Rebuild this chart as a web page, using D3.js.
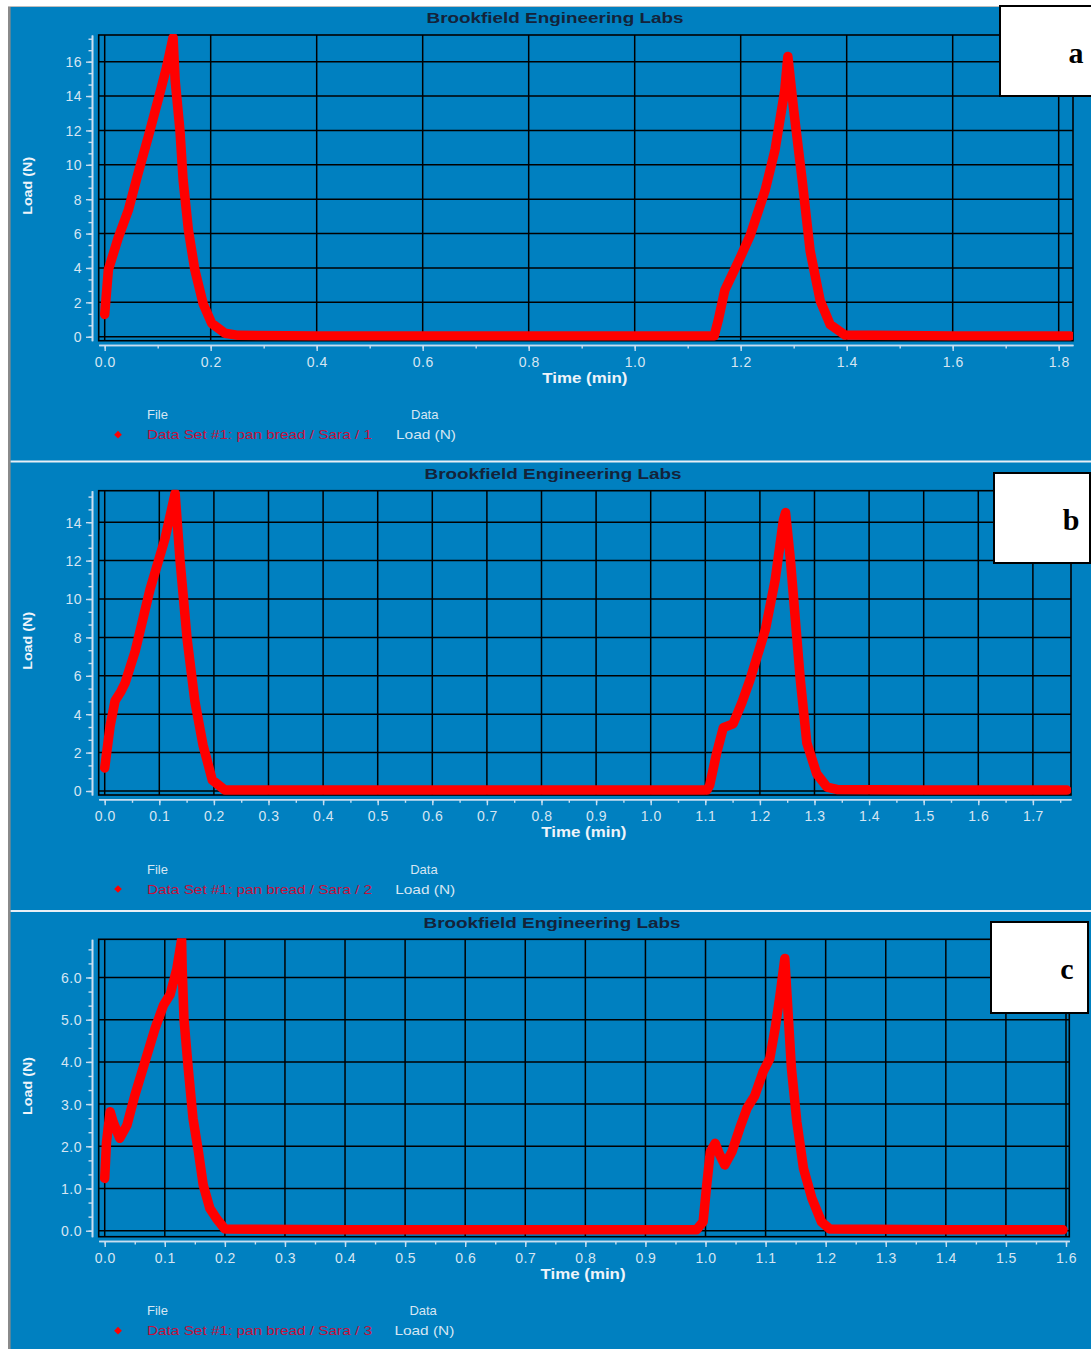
<!DOCTYPE html>
<html><head><meta charset="utf-8">
<script src="https://cdn.jsdelivr.net/npm/d3@7"></script>
<style>body{margin:0;background:#fff}svg{display:block}</style>
</head><body>
<script>
// ---------- DATA ----------
const titleText = "Brookfield Engineering Labs";
const xLabel = "Time (min)";
const yLabel = "Load (N)";
const panelLetters = ["a", "b", "c"];
const seriesNames = ["Data Set #1: pan bread / Sara / 1", "Data Set #1: pan bread / Sara / 2", "Data Set #1: pan bread / Sara / 3"];

const timeA = [0, 0.007, 0.026, 0.045, 0.063, 0.082, 0.101, 0.117, 0.129, 0.133, 0.142, 0.148, 0.158, 0.170, 0.186, 0.202, 0.227, 0.252, 0.40, 0.60, 0.80, 1.00, 1.15, 1.158, 1.17, 1.199, 1.218, 1.246, 1.265, 1.283, 1.289, 1.30, 1.316, 1.331, 1.35, 1.369, 1.397, 1.60, 1.822];
const loadA = [1.3, 3.9, 5.8, 7.4, 9.5, 11.6, 13.8, 15.7, 17.4, 14.9, 12.0, 9.1, 6.2, 3.9, 1.9, 0.78, 0.2, 0.08, 0.05, 0.05, 0.05, 0.05, 0.05, 1.0, 2.7, 4.6, 5.9, 8.5, 10.9, 14.3, 16.3, 13.2, 9.1, 5.0, 2.1, 0.7, 0.1, 0.05, 0.05];

const timeB = [0, 0.01, 0.019, 0.03, 0.037, 0.056, 0.083, 0.11, 0.129, 0.138, 0.151, 0.165, 0.18, 0.197, 0.22, 0.4, 0.6, 0.8, 1.0, 1.103, 1.108, 1.121, 1.133, 1.151, 1.167, 1.182, 1.21, 1.228, 1.243, 1.247, 1.256, 1.265, 1.274, 1.286, 1.304, 1.323, 1.341, 1.5, 1.762];
const loadB = [1.2, 3.4, 4.7, 5.2, 5.6, 7.3, 10.5, 13.1, 15.5, 12.0, 7.9, 4.7, 2.4, 0.57, 0.05, 0.05, 0.05, 0.05, 0.05, 0.05, 0.3, 2.0, 3.3, 3.5, 4.6, 5.8, 8.4, 11.0, 14.1, 14.5, 12.0, 8.9, 5.8, 2.5, 0.9, 0.2, 0.08, 0.05, 0.05];

const timeC = [0, 0.003, 0.009, 0.014, 0.025, 0.037, 0.05, 0.067, 0.084, 0.098, 0.109, 0.12, 0.128, 0.129, 0.132, 0.139, 0.147, 0.156, 0.164, 0.175, 0.186, 0.2, 0.4, 0.6, 0.8, 0.985, 0.996, 1.002, 1.008, 1.016, 1.024, 1.032, 1.044, 1.057, 1.069, 1.082, 1.096, 1.107, 1.116, 1.124, 1.132, 1.138, 1.143, 1.152, 1.163, 1.177, 1.193, 1.207, 1.4, 1.595];
const loadC = [1.24, 2.1, 2.82, 2.58, 2.19, 2.5, 3.2, 4.0, 4.8, 5.35, 5.6, 6.2, 6.9, 6.2, 5.0, 3.85, 2.66, 1.87, 1.08, 0.53, 0.29, 0.04, 0.02, 0.02, 0.02, 0.02, 0.21, 1.08, 1.87, 2.07, 1.79, 1.56, 1.87, 2.43, 2.9, 3.2, 3.77, 4.08, 4.8, 5.58, 6.45, 5.03, 3.85, 2.58, 1.48, 0.77, 0.21, 0.04, 0.02, 0.02];

const xTicksA = [0, 0.2, 0.4, 0.6, 0.8, 1.0, 1.2, 1.4, 1.6, 1.8];
const yTicksA = [0, 2, 4, 6, 8, 10, 12, 14, 16];
const xTicksB = [0, 0.1, 0.2, 0.3, 0.4, 0.5, 0.6, 0.7, 0.8, 0.9, 1.0, 1.1, 1.2, 1.3, 1.4, 1.5, 1.6, 1.7];
const yTicksB = [0, 2, 4, 6, 8, 10, 12, 14];
const xTicksC = [0, 0.1, 0.2, 0.3, 0.4, 0.5, 0.6, 0.7, 0.8, 0.9, 1.0, 1.1, 1.2, 1.3, 1.4, 1.5, 1.6];
const yTicksC = [0, 1, 2, 3, 4, 5, 6];

// ---------- LAYOUT ----------
const W = 1091, H = 1349;
const BLUE = "#0080c0", LIGHT = "#d6e6f3", AXIS = "#c9def0";
const FONT = "'Liberation Sans', Arial, sans-serif";

const panels = [
  { t: timeA, l: loadA, xt: xTicksA, yt: yTicksA, xMinor: 0.1, yMinor: 2/3, yfmt: d3.format("d"),
    f: {l: 98.7, r: 1073, t: 35, b: 340.7}, xd: [-0.0113, 1.827], yd: [-0.23, 17.55],
    titleX: 555, box: {x: 1000, y: 6, w: 95, h: 90}, letterX: 1076 },
  { t: timeB, l: loadB, xt: xTicksB, yt: yTicksB, xMinor: 0.05, yMinor: 2/3, yfmt: d3.format("d"),
    f: {l: 98.7, r: 1071, t: 490.7, b: 795}, xd: [-0.011, 1.7698], yd: [-0.208, 15.64],
    titleX: 553, box: {x: 994, y: 473, w: 96, h: 90}, letterX: 1071 },
  { t: timeC, l: loadC, xt: xTicksC, yt: yTicksC, xMinor: 0.05, yMinor: 1/3, yfmt: d3.format(".1f"),
    f: {l: 98.7, r: 1069.3, t: 939.3, b: 1236.7}, xd: [-0.01, 1.6055], yd: [-0.142, 6.905],
    titleX: 552, box: {x: 991, y: 922, w: 97, h: 91}, letterX: 1067 }
];

const svg = d3.select("body").append("svg").attr("width", W).attr("height", H)
  .style("font-family", FONT);

svg.append("rect").attr("width", W).attr("height", H).attr("fill", "#fff");
svg.append("rect").attr("x", 10).attr("y", 7).attr("width", W - 10).attr("height", H - 7).attr("fill", BLUE);
svg.append("rect").attr("x", 8).attr("y", 7).attr("width", 2.6).attr("height", H - 7).attr("fill", "#8a8a8a");
svg.append("line").attr("x1", 8).attr("x2", W).attr("y1", 6.5).attr("y2", 6.5).attr("stroke", "#bdbdbd").attr("stroke-width", 1);
[461.5, 911].forEach(yy => svg.append("line").attr("x1", 10.6).attr("x2", W).attr("y1", yy).attr("y2", yy)
  .attr("stroke", "#e8eff6").attr("stroke-width", 2));

panels.forEach((p, i) => {
  const g = svg.append("g");
  const f = p.f;
  const x = d3.scaleLinear().domain(p.xd).range([f.l, f.r]);
  const y = d3.scaleLinear().domain(p.yd).range([f.b, f.t]);

  // title
  g.append("text").attr("x", p.titleX).attr("y", f.t - 17).attr("dy", "0.35em")
    .attr("text-anchor", "middle").attr("font-weight", "bold").attr("font-size", 15.5)
    .attr("fill", "#14233a").attr("textLength", 257).attr("lengthAdjust", "spacingAndGlyphs")
    .text(titleText);

  // grid
  g.selectAll(".vg").data(p.xt).join("line")
    .attr("x1", d => x(d)).attr("x2", d => x(d)).attr("y1", f.t).attr("y2", f.b)
    .attr("stroke", "#000").attr("stroke-width", 1.5);
  g.selectAll(".hg").data(p.yt).join("line")
    .attr("y1", d => y(d)).attr("y2", d => y(d)).attr("x1", f.l).attr("x2", f.r)
    .attr("stroke", "#000").attr("stroke-width", 1.5);
  g.append("rect").attr("x", f.l).attr("y", f.t).attr("width", f.r - f.l).attr("height", f.b - f.t)
    .attr("fill", "none").attr("stroke", "#000").attr("stroke-width", 1.6);

  // axes
  const xMinorVals = d3.range(0, p.xd[1] + 1e-9, p.xMinor);
  const yMinorVals = d3.range(0, p.yd[1] + 1e-9, p.yMinor);
  const xa = g.append("g").attr("transform", `translate(0,${f.b + 4.3})`)
    .call(d3.axisBottom(x).tickValues(xMinorVals).tickSize(3.5).tickSizeOuter(0).tickFormat(""));
  const xb = g.append("g").attr("transform", `translate(0,${f.b + 4.3})`)
    .call(d3.axisBottom(x).tickValues(p.xt).tickSize(6).tickSizeOuter(0).tickFormat(d3.format(".1f")));
  const ya = g.append("g").attr("transform", `translate(92,0)`)
    .call(d3.axisLeft(y).tickValues(yMinorVals).tickSize(3.5).tickSizeOuter(0).tickFormat(""));
  const yb = g.append("g").attr("transform", `translate(92,0)`)
    .call(d3.axisLeft(y).tickValues(p.yt).tickSize(6).tickSizeOuter(0).tickFormat(p.yfmt));
  [xa, xb, ya, yb].forEach(a => {
    a.select(".domain").attr("stroke", AXIS).attr("stroke-width", 1.6);
    a.selectAll(".tick line").attr("stroke", AXIS).attr("stroke-width", 1.4);
    a.selectAll("text").attr("fill", LIGHT).attr("font-size", 14).attr("font-family", FONT)
      .attr("letter-spacing", "0.5px");
  });
  xb.selectAll("text").attr("y", 17).attr("dy", "0.35em");
  yb.selectAll("text").attr("x", -10).attr("dy", "0.35em");

  // axis labels
  g.append("text").attr("x", (f.l + f.r) / 2 - 1).attr("y", f.b + 37).attr("dy", "0.35em")
    .attr("text-anchor", "middle").attr("font-weight", "bold").attr("font-size", 14.5)
    .attr("fill", "#eef4fa").attr("textLength", 85).attr("lengthAdjust", "spacingAndGlyphs").text(xLabel);
  g.append("text").attr("transform", `translate(27,${(f.t + f.b) / 2 - 2}) rotate(-90)`).attr("dy", "0.35em")
    .attr("text-anchor", "middle").attr("font-weight", "bold").attr("font-size", 13.5)
    .attr("fill", "#eef4fa").attr("textLength", 58).attr("lengthAdjust", "spacingAndGlyphs").text(yLabel);

  // data line
  const cid = "clip" + i;
  svg.append("clipPath").attr("id", cid).append("rect")
    .attr("x", f.l).attr("y", f.t - 1).attr("width", f.r - f.l).attr("height", f.b - f.t + 1);
  const pts = p.t.map((tt, k) => [tt, p.l[k]]);
  g.append("path").attr("clip-path", `url(#${cid})`).datum(pts)
    .attr("d", d3.line().x(d => x(d[0])).y(d => y(d[1])))
    .attr("fill", "none").attr("stroke", "#ff0000").attr("stroke-width", 9.5)
    .attr("stroke-linejoin", "round").attr("stroke-linecap", "round");

  // legend
  const ly = f.b + 74, ly2 = f.b + 94;
  g.append("text").attr("x", 147).attr("y", ly).attr("dy", "0.35em").attr("font-size", 13)
    .attr("fill", LIGHT).text("File");
  g.append("text").attr("x", 411 - i * 0.8).attr("y", ly).attr("dy", "0.35em").attr("font-size", 13)
    .attr("fill", LIGHT).text("Data");
  g.append("path").attr("d", d3.symbol(d3.symbolSquare, 30)())
    .attr("transform", `translate(118,${ly2}) rotate(45)`).attr("fill", "#ff0000");
  g.append("text").attr("x", 147).attr("y", ly2).attr("dy", "0.35em").attr("font-size", 13)
    .attr("fill", "#c4103c").attr("textLength", 225).attr("lengthAdjust", "spacingAndGlyphs").text(seriesNames[i]);
  g.append("text").attr("x", 396 - i * 0.8).attr("y", ly2).attr("dy", "0.35em").attr("font-size", 13)
    .attr("fill", LIGHT).attr("textLength", 60).attr("lengthAdjust", "spacingAndGlyphs").text(yLabel);

  // letter box
  g.append("rect").attr("x", p.box.x).attr("y", p.box.y).attr("width", p.box.w).attr("height", p.box.h)
    .attr("fill", "#fff").attr("stroke", "#000").attr("stroke-width", 2);
  g.append("text").attr("x", p.letterX).attr("y", p.box.y + p.box.h / 2 + 1).attr("dy", "0.35em")
    .attr("text-anchor", "middle").attr("font-family", "'Liberation Serif', 'Times New Roman', serif")
    .attr("font-weight", "bold").attr("font-size", 30).attr("fill", "#000").text(panelLetters[i]);
});
</script>
</body></html>
